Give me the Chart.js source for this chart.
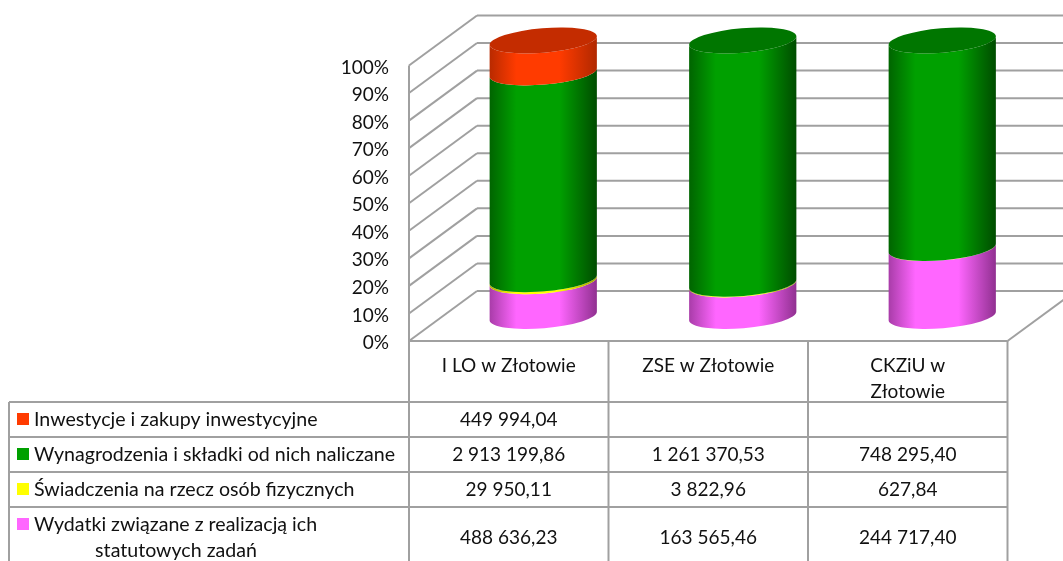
<!DOCTYPE html>
<html lang="pl">
<head>
<meta charset="utf-8">
<title>Wydatki szkół</title>
<script src="https://cdn.jsdelivr.net/npm/chart.js@4"></script>
<style>
  html, body { margin: 0; background: #fff; overflow: hidden; }
  canvas { display: block; }
</style>
</head>
<body>
<canvas id="chart" width="1063" height="561"></canvas>
<script>
const categories = ["I LO w Złotowie", "ZSE w Złotowie", ["CKZiU w", "Złotowie"]];
const investments = [449994.04, null, null];
const salaries = [2913199.86, 1261370.53, 748295.40];
const benefits = [29950.11, 3822.96, 627.84];
const statutory = [488636.23, 163565.46, 244717.40];
const tickValues = [0, 10, 20, 30, 40, 50, 60, 70, 80, 90, 100];

const FONT = "Lato, Carlito, sans-serif";
const GRID = "#a0a0a0";
const DEPTH_X = 68;
const DEPTH_Y = 50;

// shaded colours for the cylinders: edge left, middle, edge right
const shades = {
  red: ["#b82a00", "#ff3b00", "#b02800"],
  green: ["#006400", "#00a000", "#004c00"],
  yellow: ["#b0b000", "#ffff00", "#a0a000"],
  pink: ["#a83ca8", "#ff66ff", "#903090"],
};
const capColors = { red: "#c42c00", green: "#007600", yellow: "#c0c000", pink: "#c050c0" };

// table rows, top to bottom
const rows = [
  { label: ["Inwestycje i zakupy inwestycyjne"], values: investments, color: "#ff3b00", top: 402 },
  { label: ["Wynagrodzenia i składki od nich naliczane"], values: salaries, color: "#00a000", top: 437 },
  { label: ["Świadczenia na rzecz osób fizycznych"], values: benefits, color: "#ffff00", top: 472 },
  { label: ["Wydatki związane z realizacją ich", "statutowych zadań"], values: statutory, color: "#ff66ff", top: 507 },
];

function formatPln(v) {
  if (v === null) return "";
  const [whole, dec] = v.toFixed(2).split(".");
  return whole.replace(/\B(?=(\d{3})+$)/g, " ") + "," + dec;
}

function percents(values) {
  return values.map((v, i) => {
    const total = (investments[i] || 0) + salaries[i] + benefits[i] + statutory[i];
    return ((v || 0) / total) * 100;
  });
}

function line(ctx, x1, y1, x2, y2) {
  ctx.beginPath();
  ctx.moveTo(x1, y1);
  ctx.lineTo(x2, y2);
  ctx.stroke();
}

const wallPlugin = {
  id: "wall",
  beforeDatasetsDraw(chart) {
    const { ctx, scales: { y }, chartArea: area } = chart;
    ctx.save();
    ctx.strokeStyle = GRID;
    ctx.lineWidth = 2;
    tickValues.forEach((v) => {
      const py = y.getPixelForValue(v);
      line(ctx, area.left, py, area.left + DEPTH_X, py - DEPTH_Y);
      line(ctx, area.left + DEPTH_X, py - DEPTH_Y, chart.width, py - DEPTH_Y);
    });
    line(ctx, area.left, area.top, area.left, area.bottom);
    line(ctx, area.left, area.bottom, area.right, area.bottom);
    line(ctx, area.right, area.bottom, area.right + DEPTH_X, area.bottom - DEPTH_Y);

    // tick labels sit a little under the gridline, as in the original
    ctx.fillStyle = "#111";
    ctx.font = "19px " + FONT;
    ctx.textAlign = "right";
    ctx.textBaseline = "middle";
    tickValues.forEach((v) => {
      ctx.fillText(v + "%", area.left - 20, y.getPixelForValue(v) + 2);
    });
    ctx.restore();
  },
};

const TILT = -0.083;
const RY = 12.2;

const cylinderPlugin = {
  id: "cylinders",
  beforeDatasetDraw() {
    return false;
  },
  afterDatasetsDraw(chart) {
    const { ctx } = chart;
    const shiftX = 34.5;
    const shiftY = DEPTH_Y / 2;
    categories.forEach((_, c) => {
      let last = null;
      chart.data.datasets.forEach((ds, d) => {
        if (!ds.data[c]) return;
        const bar = chart.getDatasetMeta(d).data[c];
        const cx = bar.x + shiftX;
        const rx = bar.width / 2;
        const bottom = bar.base - shiftY;
        const top = bar.y - shiftY;
        const g = ctx.createLinearGradient(cx - rx, 0, cx + rx, 0);
        const s = shades[ds.shade];
        g.addColorStop(0, s[0]);
        g.addColorStop(0.25, s[1]);
        g.addColorStop(0.65, s[1]);
        g.addColorStop(1, s[2]);
        ctx.fillStyle = g;
        ctx.beginPath();
        ctx.ellipse(cx, bottom, rx, RY, TILT, 0, Math.PI);
        ctx.ellipse(cx, top, rx, RY, TILT, Math.PI, 0, true);
        ctx.closePath();
        ctx.fill();
        last = { cx, rx, top, shade: ds.shade };
      });
      if (last) {
        ctx.fillStyle = capColors[last.shade];
        ctx.beginPath();
        ctx.ellipse(last.cx, last.top, last.rx, RY, TILT, 0, Math.PI * 2);
        ctx.fill();
      }
    });
  },
};

const tablePlugin = {
  id: "dataTable",
  afterDraw(chart) {
    const { ctx, scales: { x }, chartArea: area } = chart;
    const edges = [area.left];
    categories.forEach((_, i) => edges.push(area.left + (area.width * (i + 1)) / categories.length));
    ctx.save();
    ctx.strokeStyle = GRID;
    ctx.lineWidth = 2;
    edges.forEach((ex) => line(ctx, ex, area.bottom, ex, chart.height));
    line(ctx, 9, rows[0].top, 9, chart.height);
    rows.forEach((r) => line(ctx, 9, r.top, area.right, r.top));

    ctx.textBaseline = "middle";
    rows.forEach((r) => {
      const two = r.label.length > 1;
      const mid = r.top + 18;
      ctx.fillStyle = r.color;
      ctx.fillRect(17, r.top + 11, 12, 12);
      ctx.fillStyle = "#111";
      ctx.font = "19.6px " + FONT;
      ctx.textAlign = "left";
      ctx.fillText(r.label[0], 34, mid);
      if (two) {
        ctx.textAlign = "center";
        ctx.fillText(r.label[1], 176, mid + 26);
      }
      ctx.font = "19px " + FONT;
      ctx.textAlign = "center";
      r.values.forEach((v, c) => {
        ctx.fillText(formatPln(v), x.getPixelForTick(c), two ? mid + 13 : mid);
      });
    });
    ctx.restore();
  },
};

new Chart(document.getElementById("chart"), {
  type: "bar",
  data: {
    labels: categories,
    datasets: [
      { label: "Wydatki związane z realizacją ich statutowych zadań", data: percents(statutory), shade: "pink" },
      { label: "Świadczenia na rzecz osób fizycznych", data: percents(benefits), shade: "yellow" },
      { label: "Wynagrodzenia i składki od nich naliczane", data: percents(salaries), shade: "green" },
      { label: "Inwestycje i zakupy inwestycyjne", data: percents(investments), shade: "red" },
    ],
  },
  plugins: [wallPlugin, cylinderPlugin, tablePlugin],
  options: {
    responsive: false,
    animation: false,
    layout: { padding: { top: 65.5, right: 55.5, bottom: 0, left: 0 } },
    plugins: { legend: { display: false }, tooltip: { enabled: false } },
    datasets: { bar: { categoryPercentage: 1, barPercentage: 107.5 / 199.3 } },
    scales: {
      x: {
        stacked: true,
        grid: { display: false },
        border: { display: false },
        afterFit(s) { s.height = 220; },
        ticks: {
          autoSkip: false,
          maxRotation: 0,
          padding: 4,
          color: "#111",
          font: { family: FONT, size: 19, lineHeight: 26 / 19 },
        },
      },
      y: {
        stacked: true,
        min: 0,
        max: 100,
        grid: { display: false },
        border: { display: false },
        afterFit(s) { s.width = 409; },
        ticks: { display: false, stepSize: 10 },
      },
    },
  },
});
</script>
</body>
</html>
